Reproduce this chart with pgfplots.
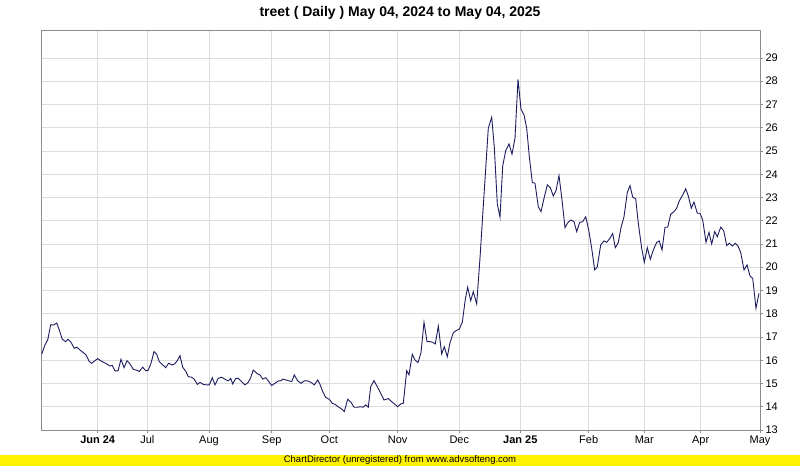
\documentclass[border=0pt]{standalone}
\usepackage{pgfplots}
\pgfplotsset{compat=1.18}
\usepackage{fontspec}
\setmainfont{Liberation Sans}
\definecolor{lineblue}{HTML}{1C1C5E}
\definecolor{gridgray}{HTML}{DCDCDC}
\definecolor{framegray}{HTML}{8C8C8C}
\pgfplotstableread{
x y
41.7 16.26
45 16.66
47.7 16.87
50.7 17.52
54 17.52
56.7 17.6
59.3 17.3
62.3 16.9
65.7 16.8
68 16.9
71 16.77
74.3 16.51
77 16.56
80 16.44
83.3 16.33
86 16.23
89.3 15.94
91.7 15.87
95 15.98
97.7 16.07
100.7 15.98
104 15.9
106.7 15.84
110 15.75
112.3 15.78
115 15.54
118 15.54
121 16.04
124 15.68
127 15.98
130 15.84
133.3 15.61
136.7 15.57
139.3 15.52
142.7 15.70
145.7 15.55
148 15.55
151 15.87
154 16.37
156.7 16.26
159.3 15.94
162.7 15.8
165.7 15.68
168.7 15.87
171.7 15.8
174.7 15.84
177.7 16.01
180 16.2
182.7 15.7
186 15.51
188.3 15.29
191.7 15.27
194.3 15.18
197.3 14.96
200 15.05
203.3 14.96
206.7 14.94
209.3 14.94
212.3 15.25
215 14.94
218.3 15.22
221.7 15.27
225 15.18
228.3 15.11
230.7 15.22
232.7 14.98
235.7 15.22
238.3 15.22
241.7 15.08
245 14.94
248.3 15.05
250.7 15.25
253.3 15.58
256.7 15.44
260 15.37
262.7 15.19
265.7 15.25
268.3 15.11
271.7 14.91
275 15.01
278.3 15.11
280.7 15.11
282.7 15.19
286 15.15
289.3 15.11
291.7 15.08
294.3 15.37
297.7 15.11
301 15.01
304.3 15.11
307.7 15.11
311 15.05
314.3 14.94
317.7 15.15
320 14.96
322.7 14.65
325.7 14.4
329.3 14.32
332.3 14.15
335 14.1
338.3 14.0
341.7 13.9
344.3 13.79
347.7 14.32
351 14.19
354 13.98
357.3 13.98
360.7 14.0
363.3 13.98
365.7 14.08
368.3 13.98
370.7 14.86
374 15.12
377.3 14.86
380.7 14.58
384 14.29
388.3 14.35
391.7 14.22
395 14.1
397.7 14.0
400.7 14.12
403.3 14.15
406.7 15.55
409 15.37
412.3 16.26
415 16.01
418 15.9
421 16.33
424 17.63
427 16.8
430 16.8
432.7 16.77
435.3 16.7
438.3 17.47
441.7 16.27
444.3 16.58
447.3 16.15
450 16.75
453.3 17.18
456 17.27
459.3 17.34
462.3 17.63
465.3 18.62
467.7 19.14
470.7 18.56
473.3 18.95
476.7 18.42
480 20.4
482.8 22.3
485.8 24.3
488.3 25.98
491.7 26.45
494.3 25.16
497.3 22.72
500 22.15
502.7 24.35
505.7 25.01
509 25.3
512 24.86
515 25.55
518 28.08
521 26.79
524 26.55
526.7 25.98
529.3 24.76
532.3 23.65
535 23.61
538.3 22.6
541 22.39
544 22.96
547.3 23.54
550.3 23.42
553.3 23.06
556 23.29
559 23.94
562 22.89
565 21.7
568 21.93
571 22.03
574 21.96
576.7 21.53
579.7 21.93
582.7 21.96
585.7 22.17
588.7 21.6
591.7 20.81
594.7 19.88
597.3 20.02
600.7 20.96
604 21.13
606.7 21.07
610 21.25
612.7 21.45
615.3 20.84
618.3 21.06
621 21.7
624 22.17
627.3 23.21
630 23.51
632.7 23.01
635.7 22.94
638.3 21.89
641.7 20.81
644.3 20.21
647.3 20.84
650.3 20.34
653.3 20.74
656.7 21.07
659.3 21.13
662 20.74
665 21.72
667.7 21.72
670.7 22.28
674 22.39
676.7 22.54
679.3 22.85
682.7 23.11
685.7 23.37
688.3 23.06
691.3 22.54
694 22.8
697.3 22.32
700 22.32
702.7 22.03
706 21.07
709 21.5
711.7 21.0
714.7 21.53
717.3 21.31
720.7 21.72
723.7 21.57
726.7 20.93
729.3 21.03
732.3 20.91
735.3 21.03
738 20.91
740.7 20.63
744 19.88
747 20.1
750 19.62
752.7 19.52
756 18.23
759 18.88
}\pricedata
\begin{document}
\begin{tikzpicture}[x=1pt,y=1pt]
\useasboundingbox (0,0) rectangle (800,466);
\fill[yellow] (0,0) rectangle (800,11);
\node[font=\fontsize{9.5}{10}\selectfont, inner sep=0pt] at (400,5.5) {ChartDirector (unregistered) from www.advsofteng.com};
\node[font=\bfseries\fontsize{14}{16}\selectfont, inner sep=0pt] at (400,453) {treet ( Daily ) May 04, 2024 to May 04, 2025};
\begin{axis}[
  at={(41pt,36pt)}, anchor=south west,
  scale only axis, width=719pt, height=400pt,
  xmin=41, xmax=760, ymin=13, ymax=30.2,
  axis line style={draw=framegray, line width=0.8pt},
  grid=major,
  major grid style={draw=gridgray, line width=0.8pt},
  ytick={13,14,...,29},
  yticklabel pos=right,
  ytick pos=right,
  xtick pos=bottom,
  xtick={97.7,147.3,209,271.7,329.3,397.7,459.3,520.3,588.7,644.3,700.7,760},
  xticklabels={\textbf{Jun 24},Jul,Aug,Sep,Oct,Nov,Dec,\textbf{Jan 25},Feb,Mar,Apr,May},
  tick align=outside,
  major tick length=3pt,
  tick style={draw=framegray, line width=0.8pt},
  ticklabel style={font=\fontsize{11}{12}\selectfont},
  yticklabel style={anchor=west, xshift=-1pt},
  xticklabel style={yshift=1pt},
  /pgf/number format/assume math mode=true,
]
\addplot[lineblue, line width=0.9pt, mark=none] table[x=x,y=y] {\pricedata};
\end{axis}
\end{tikzpicture}
\end{document}
